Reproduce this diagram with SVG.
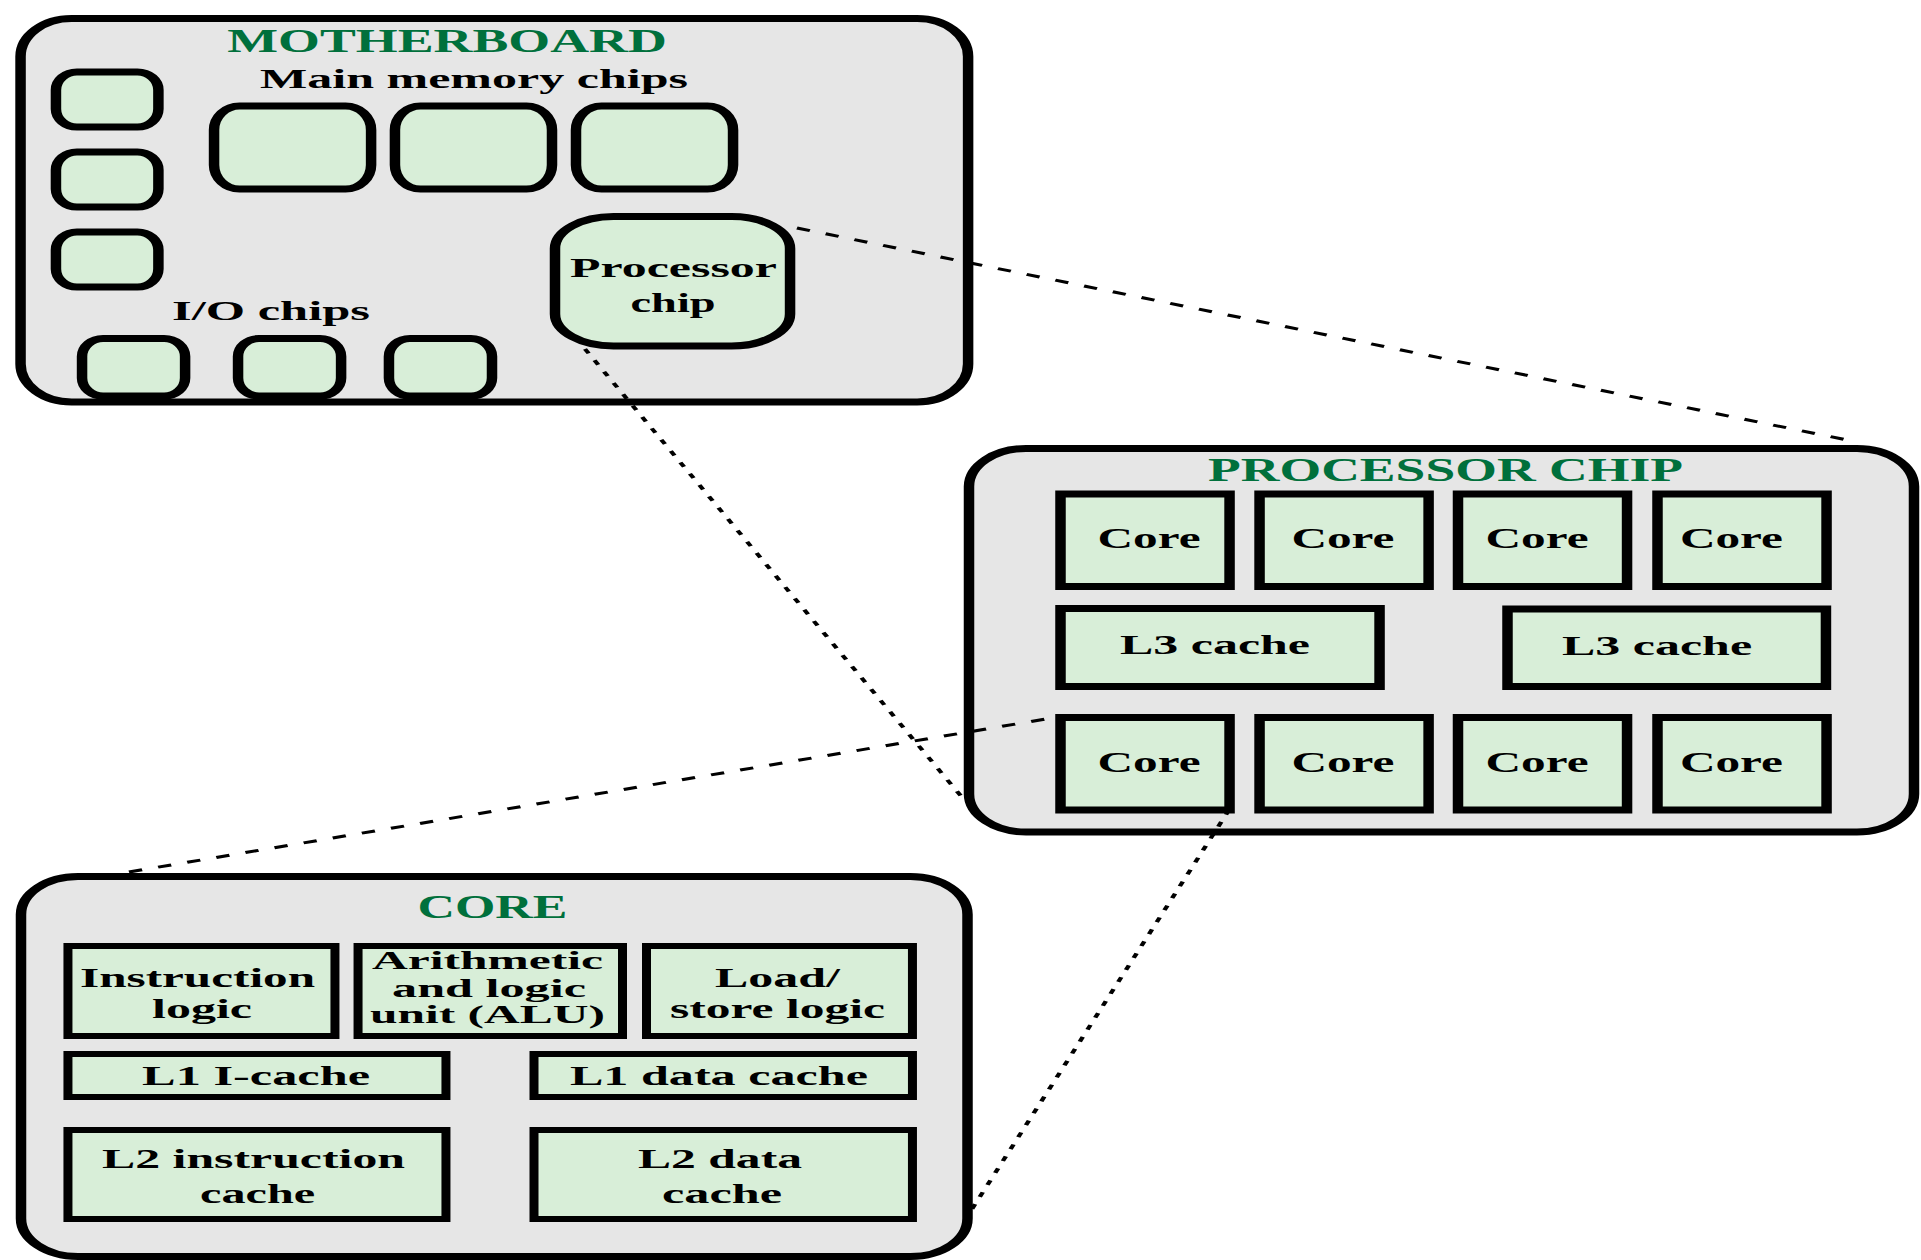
<svg xmlns="http://www.w3.org/2000/svg" width="1921" height="1260" viewBox="0 0 1921 1260">
  <style>
    .board { fill: #e6e6e6; stroke: #000; stroke-width: 7; }
    .chip { fill: #d8eed8; stroke: #000; stroke-width: 7; }
    .unit { fill: #d8eed8; stroke: #000; stroke-width: 6; }
    text { font-family: "Liberation Serif", "Times New Roman", serif; font-weight: bold; fill: #000; text-anchor: middle; }
    .title { fill: #00703c; font-size: 33px; }
    .lbl { font-size: 27px; }
    .big { font-size: 29px; }
    .mid { font-size: 28px; }
    .sm { font-size: 26px; }
    .link { fill: none; stroke: #000; stroke-width: 3; }
    .long { stroke-dasharray: 9 11; }
    .short { stroke-dasharray: 5 8; }
  </style>
  <rect width="1921" height="1260" fill="#fff"/>
  <!-- drawing is authored at 2/3 width and stretched horizontally -->
  <g transform="scale(1.5 1)">
    <g id="motherboard">
      <rect class="board" x="13.7" y="18.5" width="631.7" height="383.5" rx="34" ry="38"/>
      <text class="title" x="298" y="52" textLength="293" lengthAdjust="spacingAndGlyphs">MOTHERBOARD</text>
      <text class="lbl" x="316" y="88" textLength="285.3" lengthAdjust="spacingAndGlyphs">Main memory chips</text>
      <text class="lbl" x="180.7" y="320" textLength="132" lengthAdjust="spacingAndGlyphs">I/O chips</text>
    </g>
    <g id="side-chip-1"><rect class="chip" x="37.3" y="72" width="68.3" height="55" rx="14" ry="18"/></g>
    <g id="side-chip-2"><rect class="chip" x="37.3" y="152" width="68.3" height="55" rx="14" ry="18"/></g>
    <g id="side-chip-3"><rect class="chip" x="37.3" y="232" width="68.3" height="55" rx="14" ry="18"/></g>
    <g id="memory-chip-1"><rect class="chip" x="142.7" y="106" width="104.7" height="83" rx="17" ry="24"/></g>
    <g id="memory-chip-2"><rect class="chip" x="263.3" y="106" width="104.7" height="83" rx="17" ry="24"/></g>
    <g id="memory-chip-3"><rect class="chip" x="384" y="106" width="104.7" height="83" rx="17" ry="24"/></g>
    <g id="io-chip-1"><rect class="chip" x="54.7" y="338.5" width="68.7" height="57.5" rx="14" ry="18"/></g>
    <g id="io-chip-2"><rect class="chip" x="158.7" y="338.5" width="68.7" height="57.5" rx="14" ry="18"/></g>
    <g id="io-chip-3"><rect class="chip" x="259.3" y="338.5" width="68.7" height="57.5" rx="14" ry="18"/></g>
    <g id="processor-chip-small">
      <rect class="chip" x="370" y="216.5" width="156.7" height="129.5" rx="39" ry="32"/>
      <text class="mid" x="449" y="277" textLength="138" lengthAdjust="spacingAndGlyphs">Processor</text>
      <text class="mid" x="448.7" y="312" textLength="56.7" lengthAdjust="spacingAndGlyphs">chip</text>
    </g>

    <g id="processor-chip">
      <rect class="board" x="646" y="448.5" width="630" height="383.5" rx="38" ry="38"/>
      <text class="title" x="963.7" y="481.5" textLength="316.7" lengthAdjust="spacingAndGlyphs">PROCESSOR CHIP</text>
    </g>
    <g id="core-1"><rect class="chip" x="707" y="494" width="112.7" height="92.5"/><text class="big" x="766" y="548" textLength="68.7" lengthAdjust="spacingAndGlyphs">Core</text></g>
    <g id="core-2"><rect class="chip" x="839.7" y="494" width="112.7" height="92.5"/><text class="big" x="895.3" y="548" textLength="68.7" lengthAdjust="spacingAndGlyphs">Core</text></g>
    <g id="core-3"><rect class="chip" x="972" y="494" width="112.7" height="92.5"/><text class="big" x="1024.7" y="548" textLength="68.7" lengthAdjust="spacingAndGlyphs">Core</text></g>
    <g id="core-4"><rect class="chip" x="1105" y="494" width="112.7" height="92.5"/><text class="big" x="1154.3" y="548" textLength="68.7" lengthAdjust="spacingAndGlyphs">Core</text></g>
    <g id="l3-cache-1"><rect class="chip" x="707" y="608.5" width="212.7" height="78"/><text class="mid" x="810" y="654.5" textLength="126.7" lengthAdjust="spacingAndGlyphs">L3 cache</text></g>
    <g id="l3-cache-2"><rect class="chip" x="1005" y="609" width="212.3" height="77.5"/><text class="mid" x="1104.7" y="655" textLength="126.7" lengthAdjust="spacingAndGlyphs">L3 cache</text></g>
    <g id="core-5"><rect class="chip" x="707" y="717.5" width="112.7" height="92.5"/><text class="big" x="766" y="772" textLength="68.7" lengthAdjust="spacingAndGlyphs">Core</text></g>
    <g id="core-6"><rect class="chip" x="839.7" y="717.5" width="112.7" height="92.5"/><text class="big" x="895.3" y="772" textLength="68.7" lengthAdjust="spacingAndGlyphs">Core</text></g>
    <g id="core-7"><rect class="chip" x="972" y="717.5" width="112.7" height="92.5"/><text class="big" x="1024.7" y="772" textLength="68.7" lengthAdjust="spacingAndGlyphs">Core</text></g>
    <g id="core-8"><rect class="chip" x="1105" y="717.5" width="112.7" height="92.5"/><text class="big" x="1154.3" y="772" textLength="68.7" lengthAdjust="spacingAndGlyphs">Core</text></g>

    <g id="core">
      <rect class="board" x="14" y="876.5" width="631" height="380" rx="38" ry="38"/>
      <text class="title" x="328.3" y="918" textLength="100" lengthAdjust="spacingAndGlyphs">CORE</text>
    </g>
    <g id="instruction-logic">
      <rect class="unit" x="45.3" y="946" width="178" height="90"/>
      <text class="lbl" x="131.7" y="987" textLength="156.7" lengthAdjust="spacingAndGlyphs">Instruction</text>
      <text class="lbl" x="134.7" y="1018" textLength="66.7" lengthAdjust="spacingAndGlyphs">logic</text>
    </g>
    <g id="alu">
      <rect class="unit" x="238.7" y="946" width="176.3" height="90"/>
      <text class="sm" x="325" y="969" textLength="154" lengthAdjust="spacingAndGlyphs">Arithmetic</text>
      <text class="sm" x="326" y="997" textLength="129.3" lengthAdjust="spacingAndGlyphs">and logic</text>
      <text class="sm" x="325" y="1023" textLength="156.7" lengthAdjust="spacingAndGlyphs">unit (ALU)</text>
    </g>
    <g id="load-store-logic">
      <rect class="unit" x="431" y="946" width="177.3" height="90"/>
      <text class="lbl" x="518.3" y="987" textLength="83.3" lengthAdjust="spacingAndGlyphs">Load/</text>
      <text class="lbl" x="518.3" y="1018" textLength="143.3" lengthAdjust="spacingAndGlyphs">store logic</text>
    </g>
    <g id="l1-i-cache">
      <rect class="unit" x="45.3" y="1054" width="252" height="43"/>
      <text class="mid" x="170.7" y="1085" textLength="152" lengthAdjust="spacingAndGlyphs">L1 I-cache</text>
    </g>
    <g id="l1-data-cache">
      <rect class="unit" x="356" y="1054" width="252.3" height="43"/>
      <text class="mid" x="479.3" y="1085" textLength="198.7" lengthAdjust="spacingAndGlyphs">L1 data cache</text>
    </g>
    <g id="l2-instruction-cache">
      <rect class="unit" x="45.3" y="1130" width="252" height="89"/>
      <text class="mid" x="169" y="1168" textLength="202" lengthAdjust="spacingAndGlyphs">L2 instruction</text>
      <text class="mid" x="171.7" y="1203" textLength="76.7" lengthAdjust="spacingAndGlyphs">cache</text>
    </g>
    <g id="l2-data-cache">
      <rect class="unit" x="356" y="1130" width="252.3" height="89"/>
      <text class="mid" x="480" y="1168" textLength="109.3" lengthAdjust="spacingAndGlyphs">L2 data</text>
      <text class="mid" x="481.3" y="1203" textLength="80" lengthAdjust="spacingAndGlyphs">cache</text>
    </g>

    <!-- zoom-out guide lines between levels -->
    <g id="connectors">
      <line class="link long" x1="531.3" y1="228" x2="1238" y2="442"/>
      <line class="link short" x1="390" y1="349" x2="644" y2="802"/>
      <line class="link long" x1="86" y1="872" x2="705.3" y2="717"/>
      <line class="link short" x1="819.3" y1="810" x2="646.7" y2="1212"/>
    </g>
  </g>
</svg>
